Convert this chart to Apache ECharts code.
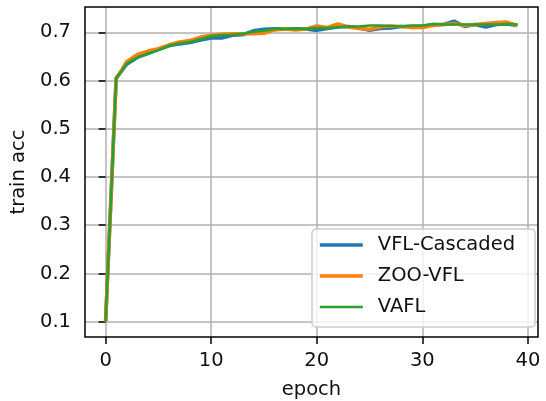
<!DOCTYPE html>
<html>
<head>
<meta charset="utf-8">
<script src="https://cdn.jsdelivr.net/npm/echarts@6/dist/echarts.min.js"></script>
<style>html,body{margin:0;padding:0;background:#fff}#c{width:546px;height:401px}</style>
</head>
<body>
<div id="c"></div>
<script>
const epochs = [0,1,2,3,4,5,6,7,8,9,10,11,12,13,14,15,16,17,18,19,20,21,22,23,24,25,26,27,28,29,30,31,32,33,34,35,36,37,38,39];
const vflCascaded = [0.100,0.605,0.634,0.648,0.656,0.664,0.672,0.676,0.679,0.684,0.688,0.688,0.694,0.695,0.703,0.706,0.707,0.707,0.707,0.707,0.704,0.708,0.711,0.712,0.709,0.704,0.708,0.709,0.712,0.712,0.712,0.716,0.716,0.723,0.712,0.716,0.711,0.716,0.717,0.714];
const zooVfl = [0.100,0.603,0.639,0.654,0.661,0.666,0.674,0.680,0.683,0.690,0.694,0.696,0.697,0.697,0.697,0.698,0.705,0.707,0.705,0.707,0.713,0.710,0.717,0.711,0.708,0.706,0.711,0.713,0.712,0.710,0.710,0.714,0.716,0.718,0.714,0.716,0.718,0.720,0.721,0.714];
const vafl = [0.100,0.604,0.635,0.648,0.656,0.663,0.672,0.677,0.680,0.686,0.692,0.694,0.695,0.697,0.701,0.703,0.707,0.707,0.707,0.707,0.709,0.709,0.711,0.712,0.712,0.714,0.714,0.713,0.712,0.714,0.714,0.717,0.716,0.716,0.716,0.716,0.716,0.716,0.717,0.716];
const xTicks = [0,10,20,30,40];
const yTicks = [0.1,0.2,0.3,0.4,0.5,0.6,0.7];
const names = ['VFL-Cascaded','ZOO-VFL','VAFL'];

const font = 'DejaVu Sans';
const fs = 19.5;
const txt = '#111';
const colors = ['#1f77b4','#ff7f0e','#2ca02c'];
const widths = [3.6, 3.6, 2.6];
const chart = echarts.init(document.getElementById('c'), null, {renderer:'canvas'});
function mk(name, vals, color, w, z){
  return {name:name, type:'line', data:epochs.map((e,i)=>[e, vals[i]]), symbol:'none', showSymbol:false,
    lineStyle:{color:color, width:w}, itemStyle:{color:color}, z:z, animation:false, clip:true};
}
chart.setOption({
  animation:false,
  grid:{left:85, right:8, top:7, bottom:64, show:true, borderColor:'#000', borderWidth:1.5, backgroundColor:'transparent', z:3,
    containLabel:false, outerBoundsMode:'none'},
  xAxis:{type:'value', min:-1.95, max:40.95,
    name:'epoch', nameLocation:'middle', nameGap:43,
    nameTextStyle:{fontFamily:font, fontSize:fs, color:txt},
    axisLine:{show:false},
    axisTick:{show:true, length:7, lineStyle:{color:'#000', width:1.5}, customValues:xTicks},
    axisLabel:{fontFamily:font, fontSize:fs, color:txt, margin:14, customValues:xTicks},
    splitLine:{show:true, lineStyle:{color:'#b0b0b0', width:1.5}}},
  yAxis:{type:'value', min:0.0683, max:0.7524,
    name:'train acc', nameLocation:'middle', nameGap:50,
    nameTextStyle:{fontFamily:font, fontSize:fs, color:txt},
    axisLine:{show:false},
    axisTick:{show:true, length:7, lineStyle:{color:'#000', width:1.5}, customValues:yTicks},
    axisLabel:{fontFamily:font, fontSize:fs, color:txt, margin:14, customValues:yTicks, formatter:v=>v.toFixed(1)},
    splitLine:{show:true, lineStyle:{color:'#b0b0b0', width:1.5}}},
  legend:{orient:'vertical', left:312, top:229,
    data:names.map((n,i)=>({name:n, lineStyle:{width:widths[i], color:colors[i]}})),
    itemWidth:43, itemHeight:20, itemGap:11,
    padding:[6,20,10,6],
    itemStyle:{opacity:0},
    backgroundColor:'rgba(255,255,255,0.8)', borderColor:'#cccccc', borderWidth:1.5, borderRadius:4,
    textStyle:{fontFamily:font, fontSize:fs, color:txt, padding:[0,0,0,10], lineHeight:20}},
  series:[
    mk(names[0], vflCascaded, colors[0], widths[0], 2),
    mk(names[1], zooVfl, colors[1], widths[1], 3),
    mk(names[2], vafl, colors[2], widths[2], 4)
  ]
});
</script>
</body>
</html>
